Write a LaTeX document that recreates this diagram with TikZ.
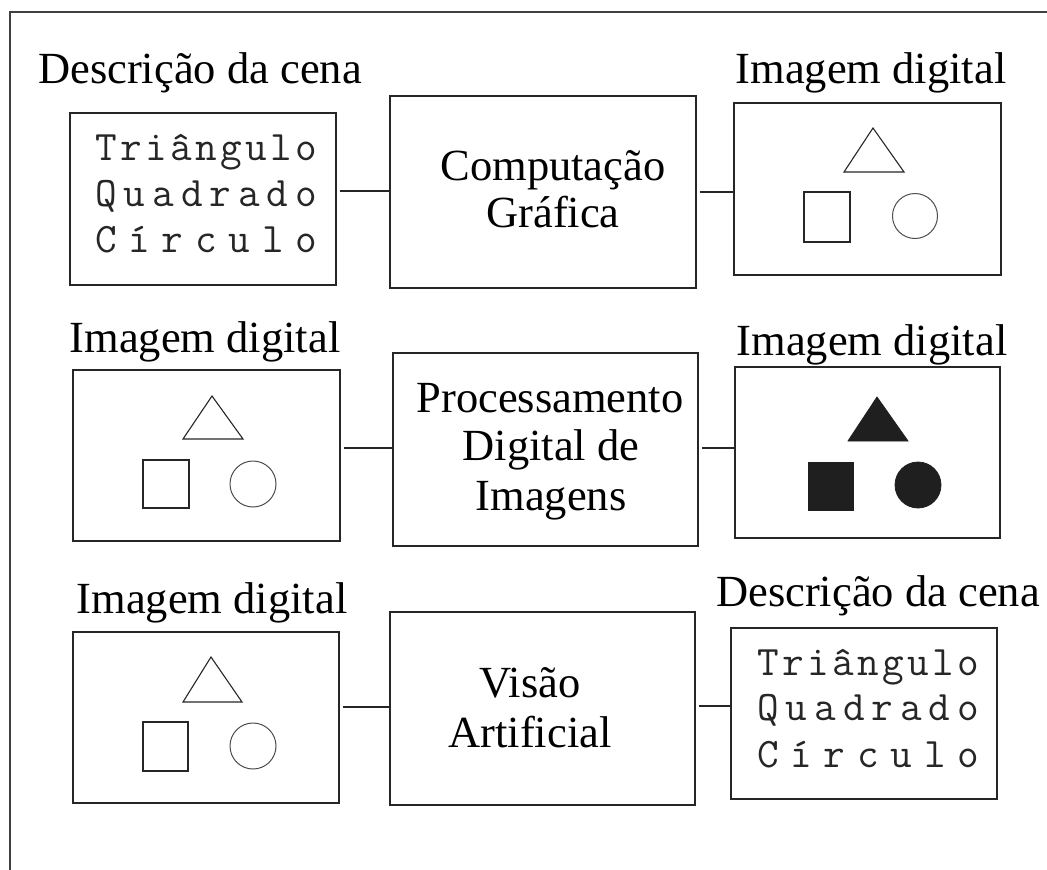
\documentclass[tikz,border=0pt]{standalone}
\usepackage{fontspec}
\setmainfont{Liberation Serif}
\newcommand{\mySpread}[2]{\makebox[#1][s]{#2}}
\begin{document}
\begin{tikzpicture}[x=1pt,y=-1pt,
  box/.style 2 args={draw=black!85, line width=1.2pt, minimum width=#1pt, minimum height=#2pt, inner sep=0pt},
  conn/.style={draw=black!85, line width=1.3pt, shorten <=3pt},
  frame/.style={draw=black!75, line width=1.2pt},
  lbl/.style={font=\fontsize{44.5}{50}\selectfont, inner sep=0pt, anchor=base},
  mono/.style={font=\fontsize{42}{44}\selectfont\ttfamily\addfontfeature{FakeStretch=1.3}, inner sep=0pt, anchor=base west, text=black!85},
  shp/.style={draw=black!85, line width=1.1pt},
  shpc/.style={draw=black!70, line width=1.0pt},
  fshp/.style={fill=black!88, draw=black!88, line width=0.8pt}]
\useasboundingbox (0,0) rectangle (1047,870);
% outer frame
\draw[frame] (10,870) -- (10,12) -- (1047,12);

% ---------- row 1 ----------
\node[lbl] (l11) at (200,83) {Descrição da cena};
\node[lbl] (l13) at (871,83) {Imagem digital};
\node[box={266}{172}] (b11) at (203,199) {};
\node[box={306}{192}] (b12) at (543,192) {};
\node[box={267}{172}] (b13) at (867.5,189) {};
\node[mono] (m111) at (95,160) {\mySpread{222pt}{T\hfill r\hfill i\hfill â\hfill n\hfill g\hfill u\hfill l\hfill o}};
\node[mono] (m112) at (95,206) {\mySpread{222pt}{Q\hfill u\hfill a\hfill d\hfill r\hfill a\hfill d\hfill o}};
\node[mono] (m113) at (95,252) {\mySpread{222pt}{C\hfill í\hfill r\hfill c\hfill u\hfill l\hfill o}};
\node[lbl] (t121) at (553,180) {Computação};
\node[lbl] (t122) at (553,227) {Gráfica};
\draw[conn] (b11.east |- 0,191) -- (b12.west |- 0,191);
\draw[conn] (b12.east |- 0,192) -- (b13.west |- 0,192);
\draw[shp] (873,128) -- (904,172) -- (844,172) -- cycle;
\draw[shp] (804,192) rectangle (850,242);
\draw[shpc] (915,216) circle[radius=22.5];

% ---------- row 2 ----------
\node[lbl] (l21) at (205,352) {Imagem digital};
\node[lbl] (l23) at (872,355) {Imagem digital};
\node[box={267}{171}] (b21) at (206.5,455.5) {};
\node[box={305}{193}] (b22) at (545.5,449.5) {};
\node[box={265}{171}] (b23) at (867.5,452.5) {};
\node[lbl] (t221) at (550,412) {Processamento};
\node[lbl] (t222) at (551,460) {Digital de};
\node[lbl] (t223) at (551,510) {Imagens};
\draw[conn] (b21.east |- 0,448) -- (b22.west |- 0,448);
\draw[conn] (b22.east |- 0,448) -- (b23.west |- 0,448);
\draw[shp] (212,396) -- (243,439) -- (183,439) -- cycle;
\draw[shp] (143,460) rectangle (189,508);
\draw[shpc] (253,484) circle[radius=23];
\fill[fshp] (877,397) -- (908,441) -- (848,441) -- cycle;
\fill[fshp] (808,462) rectangle (853,510);
\fill[fshp] (918,485) circle[radius=23];

% ---------- row 3 ----------
\node[lbl] (l31) at (212,613) {Imagem digital};
\node[lbl] (l33) at (878,606) {Descrição da cena};
\node[box={266}{171}] (b31) at (206,717.5) {};
\node[box={305}{193}] (b32) at (542.5,708.5) {};
\node[box={266}{171}] (b33) at (864,713.5) {};
\node[lbl] (t321) at (530,697) {Visão};
\node[lbl] (t322) at (530,747) {Artificial};
\node[mono] (m331) at (757,675) {\mySpread{222pt}{T\hfill r\hfill i\hfill â\hfill n\hfill g\hfill u\hfill l\hfill o}};
\node[mono] (m332) at (757,720) {\mySpread{222pt}{Q\hfill u\hfill a\hfill d\hfill r\hfill a\hfill d\hfill o}};
\node[mono] (m333) at (757,767) {\mySpread{222pt}{C\hfill í\hfill r\hfill c\hfill u\hfill l\hfill o}};
\draw[conn] (b31.east |- 0,707) -- (b32.west |- 0,707);
\draw[conn] (b32.east |- 0,706) -- (b33.west |- 0,706);
\draw[shp] (211,657) -- (242,702) -- (183,702) -- cycle;
\draw[shp] (143,722) rectangle (188,771);
\draw[shpc] (253,746) circle[radius=23];
\end{tikzpicture}
\end{document}
